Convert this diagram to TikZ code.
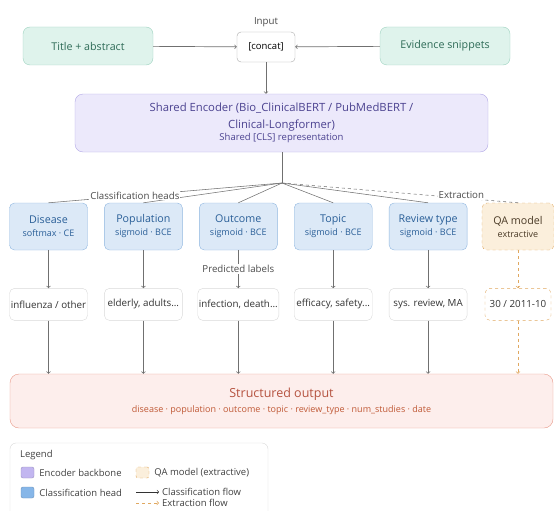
\documentclass[tikz,border=0pt]{standalone}
\usepackage{fontspec}
\setmainfont{Open Sans}
\usetikzlibrary{arrows}
\usetikzlibrary{positioning}

\definecolor{srcfill}{HTML}{DFF3EC}
\definecolor{srcline}{HTML}{9CD2BF}
\definecolor{srctext}{HTML}{2E6B57}
\definecolor{encfill}{HTML}{ECE9FB}
\definecolor{encline}{HTML}{B2A8E6}
\definecolor{enctext}{HTML}{4B4290}
\definecolor{headfill}{HTML}{DCE9F7}
\definecolor{headline}{HTML}{8FB6E0}
\definecolor{headtext}{HTML}{2A5F98}
\definecolor{qafill}{HTML}{FBEFDC}
\definecolor{qaline}{HTML}{E0A860}
\definecolor{qatext}{HTML}{4A3A26}
\definecolor{boxline}{HTML}{D9D9D9}
\definecolor{outfill}{HTML}{FDEEEC}
\definecolor{outline}{HTML}{E89A8A}
\definecolor{outtext}{HTML}{B5523F}
\definecolor{flow}{HTML}{707070}
\definecolor{encswatch}{HTML}{C2B6F0}
\definecolor{headswatch}{HTML}{86B6E8}

\newcommand{\smalltext}[1]{{\fontsize{9}{11}\selectfont #1}}

\begin{document}
\begin{tikzpicture}[x=1pt, y=-1pt, font=\fontsize{10.7}{13}\selectfont]

\tikzstyle{source}=[draw=srcline, fill=srcfill, text=srctext, rounded corners=7pt, minimum width=130pt, minimum height=38pt]
\tikzstyle{head}=[draw=headline, fill=headfill, text=headtext, rounded corners=5pt, minimum width=78pt, minimum height=47pt, align=center]
\tikzstyle{labels}=[draw=boxline, fill=white, text=black!80, rounded corners=5pt, minimum width=78pt, minimum height=32pt, inner xsep=1pt, below=38pt of #1]
\tikzstyle{line}=[draw, flow, line width=0.7pt, ->]
\tikzstyle{fan}=[draw, flow, line width=0.55pt]
\tikzstyle{extract}=[draw, qaline, line width=0.7pt, dashed, ->]
\tikzstyle{tag}=[fill=white, inner sep=1pt, text=black!70, font=\fontsize{9.7}{11}\selectfont]
\tikzstyle{swatch}=[rounded corners=2pt, minimum width=13pt, minimum height=11pt, inner sep=0pt]
\tikzstyle{legendtext}=[anchor=west, inner sep=1pt, text=black!75, font=\fontsize{9.5}{11}\selectfont]

\useasboundingbox (0,0) rectangle (554,511);

% inputs
\node[source] (title_abstract) at (88,46) {Title + abstract};
\node[draw=flow!60, fill=white, rounded corners=4pt, minimum width=58pt, minimum height=30pt, font=\fontsize{9.5}{11}\selectfont] (concat) at (266,47) {[concat]};
\node[source] (evidence_snippets) at (445,46) {Evidence snippets};
\node[tag, above=4pt of concat] (input) {Input};

% encoder
\node[draw=encline, fill=encfill, text=enctext, rounded corners=8pt, minimum width=413pt, minimum height=58pt, align=center, font=\fontsize{11.3}{17}\selectfont] (shared_encoder) at (281.5,123)
  {Shared Encoder (Bio\_ClinicalBERT / PubMedBERT /\\Clinical-Longformer)\\[-5pt]{\fontsize{9.5}{11}\selectfont Shared [CLS] representation}};
\coordinate (hub) at (282,183);

% heads
\node[head] (disease) at (48.5,226.5) {Disease\\\smalltext{softmax · CE}};
\node[head, right=16.5pt of disease] (population) {Population\\\smalltext{sigmoid · BCE}};
\node[head, right=16.5pt of population] (outcome) {Outcome\\\smalltext{sigmoid · BCE}};
\node[head, right=16.5pt of outcome] (topic) {Topic\\\smalltext{sigmoid · BCE}};
\node[head, right=16.5pt of topic] (review_type) {Review type\\\smalltext{sigmoid · BCE}};
\node[head, draw=qaline, fill=qafill, text=qatext, dashed, minimum width=72pt, right=14.5pt of review_type] (qa_model) {QA model\\\smalltext{extractive}};

% predicted labels
\node[labels=disease, font=\fontsize{9.8}{11}\selectfont] (disease_labels) {influenza / other};
\node[labels=population, font=\fontsize{9.8}{11}\selectfont] (population_labels) {elderly, adults...};
\node[labels=outcome, font=\fontsize{9.8}{11}\selectfont] (outcome_labels) {infection, death...};
\node[labels=topic, font=\fontsize{9.8}{11}\selectfont] (topic_labels) {efficacy, safety...};
\node[labels=review_type, font=\fontsize{9.8}{11}\selectfont] (review_type_labels) {sys. review, MA};
\node[labels=qa_model, draw=qaline, dashed, minimum width=66pt, font=\fontsize{9.8}{11}\selectfont] (qa_labels) {30 / 2011-10};

% output
\node[draw=outline, fill=outfill, text=outtext, rounded corners=9pt, minimum width=543pt, minimum height=54pt, align=center, font=\fontsize{12.5}{18}\selectfont] (structured_output) at (281.5,401)
  {Structured output\\[-3pt]{\fontsize{9}{11}\selectfont\color{outtext!85!orange}disease · population · outcome · topic · review\_type · num\_studies · date}};

\path[line] (title_abstract) -- (concat);
\path[line] (evidence_snippets) -- (concat);
\path[line] (concat) -- (concat |- shared_encoder.north);

\path[fan] (shared_encoder.south -| hub) -- (hub);
\path[fan] (hub) -- (disease.north) coordinate[pos=0.63] (heads_mid);
\path[fan] (hub) -- (population.north);
\path[fan] (hub) -- (outcome.north);
\path[fan] (hub) -- (topic.north);
\path[fan] (hub) -- (review_type.north);
\path[fan, dashed] (hub) -- (qa_model.north) node[tag, pos=0.76, yshift=3pt] (extraction) {Extraction};
\node[tag] (classification_heads) at (heads_mid) {Classification heads};

\path[line] (disease) -- (disease_labels);
\path[line] (population) -- (population_labels);
\path[line] (outcome) -- (outcome_labels) node[tag, midway] (predicted) {Predicted labels};
\path[line] (topic) -- (topic_labels);
\path[line] (review_type) -- (review_type_labels);
\path[extract] (qa_model) -- (qa_labels);

\path[line] (disease_labels) -- (disease_labels |- structured_output.north);
\path[line] (population_labels) -- (population_labels |- structured_output.north);
\path[line] (outcome_labels) -- (outcome_labels |- structured_output.north);
\path[line] (topic_labels) -- (topic_labels |- structured_output.north);
\path[line] (review_type_labels) -- (review_type_labels |- structured_output.north);
\path[extract] (qa_labels) -- (qa_labels |- structured_output.north);

% legend
\draw[boxline, rounded corners=6pt] (10,443) rectangle (268,518);
\node[legendtext] (legend) at (19,455) {Legend};
\node[swatch, draw=encswatch!80!black, fill=encswatch] (enc_swatch) at (27.5,472.5) {};
\node[legendtext, right=4pt of enc_swatch] (enc_text) {Encoder backbone};
\node[swatch, draw=headswatch!80!black, fill=headswatch] (head_swatch) at (27.5,492.5) {};
\node[legendtext, right=4pt of head_swatch] (head_text) {Classification head};
\node[swatch, draw=qaline, fill=qafill, dashed] (qa_swatch) at (142.5,472.5) {};
\node[legendtext, right=4pt of qa_swatch] (qa_text) {QA model (extractive)};
\coordinate (flow_start) at (136,492);
\coordinate (flow_end) at (159,492);
\coordinate (extract_start) at (136,503);
\coordinate (extract_end) at (159,503);
\path[draw, black!80, line width=0.6pt, ->] (flow_start) -- (flow_end);
\path[extract] (extract_start) -- (extract_end);
\node[legendtext, xshift=2pt] (flow_text) at (flow_end) {Classification flow};
\node[legendtext, xshift=2pt] (extract_text) at (extract_end) {Extraction flow};

\end{tikzpicture}
\end{document}
